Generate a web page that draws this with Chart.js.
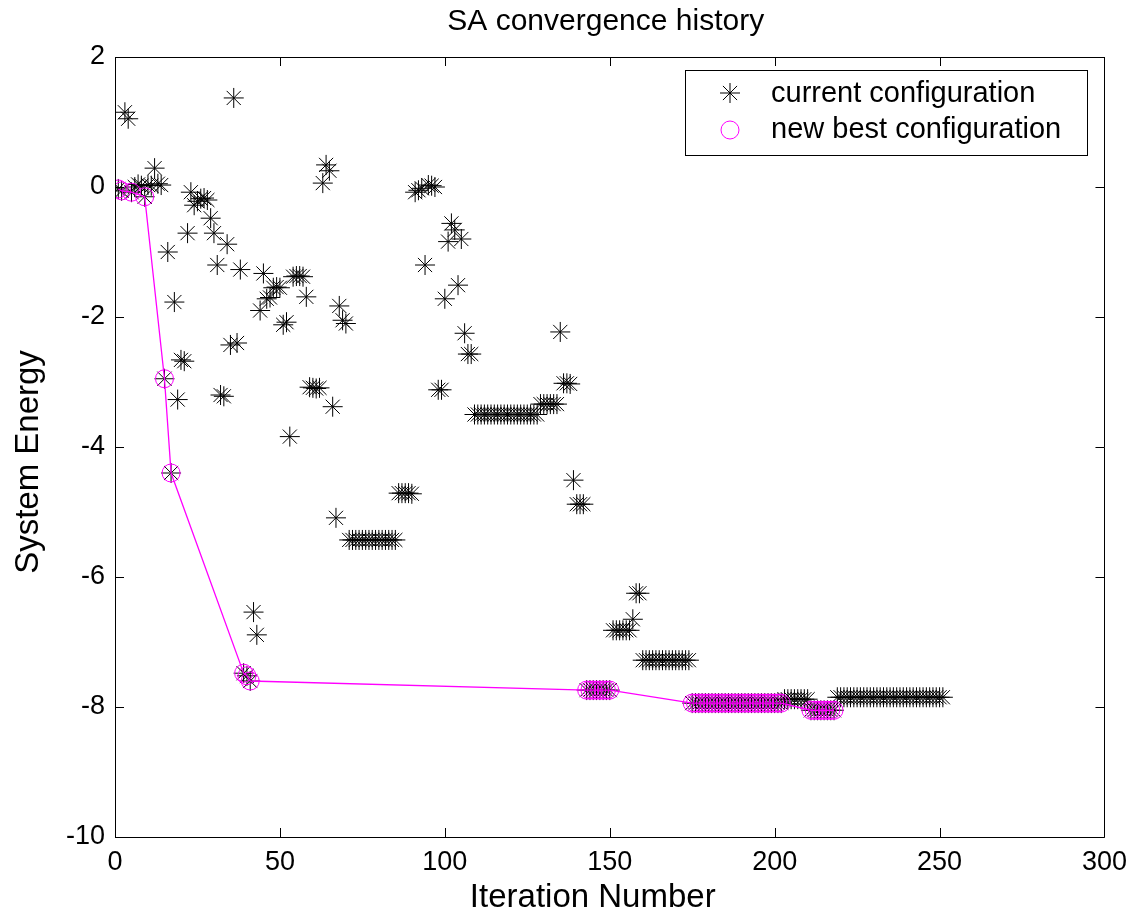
<!DOCTYPE html>
<html><head><meta charset="utf-8">
<script src="https://cdn.jsdelivr.net/npm/chart.js@4.4.1/dist/chart.umd.min.js"></script>
<style>html,body{margin:0;padding:0;background:#fff}canvas{display:block}</style>
</head><body>
<canvas id="c" width="1136" height="916"></canvas>
<script>
// System energy of the current configuration, iterations 1..251
const currentEnergy = [
  -0.03, -0.06, 1.15, 1.05, -0.08, 0.00, 0.04, 0.02, -0.15, 0.03,
  0.02, 0.29, 0.05, 0.03, -2.95, -1.00, -4.40, -1.77, -3.27, -2.66,
  -2.68, -0.71, -0.08, -0.28, -0.22, -0.18, -0.17, -0.20, -0.48, -0.71,
  -1.20, -3.20, -3.22, -0.88, -2.43, 1.37, -2.40, -1.27, -7.48, -7.52,
  -7.60, -6.54, -6.89, -1.90, -1.33, -1.72, -1.70, -1.55, -1.54, -1.55,
  -2.12, -2.08, -3.84, -1.38, -1.37, -1.37, -1.38, -1.69, -3.08, -3.09,
  -3.10, -3.09, 0.06, 0.34, 0.25, -3.38, -5.09, -1.83, -2.05, -2.10,
  -5.43, -5.43, -5.43, -5.43, -5.43, -5.43, -5.43, -5.43, -5.43, -5.43,
  -5.43, -5.43, -5.43, -5.43, -5.43, -4.71, -4.71, -4.71, -4.71, -4.72,
  -0.08, -0.05, -0.02, -1.20, 0.03, 0.02, 0.00, -3.12, -3.12, -1.72,
  -0.84, -0.56, -0.66, -1.51, -0.80, -2.25, -2.57, -2.57, -3.50, -3.50,
  -3.50, -3.50, -3.50, -3.50, -3.50, -3.50, -3.50, -3.50, -3.50, -3.50,
  -3.50, -3.50, -3.50, -3.50, -3.50, -3.50, -3.50, -3.50, -3.34, -3.34,
  -3.34, -3.34, -3.34, -3.34, -2.23, -3.02, -3.02, -3.03, -4.51, -4.88,
  -4.88, -4.88, -7.74, -7.74, -7.74, -7.74, -7.74, -7.74, -7.74, -7.74,
  -6.82, -6.82, -6.82, -6.82, -6.82, -6.82, -6.65, -6.25, -6.25, -7.28,
  -7.28, -7.28, -7.28, -7.28, -7.28, -7.28, -7.28, -7.28, -7.28, -7.28,
  -7.28, -7.28, -7.28, -7.28, -7.94, -7.94, -7.94, -7.94, -7.94, -7.94,
  -7.94, -7.94, -7.94, -7.94, -7.94, -7.94, -7.94, -7.94, -7.94, -7.94,
  -7.94, -7.94, -7.94, -7.94, -7.94, -7.94, -7.94, -7.94, -7.94, -7.94,
  -7.94, -7.94, -7.88, -7.88, -7.88, -7.88, -7.88, -7.88, -7.88, -7.88,
  -8.05, -8.05, -8.05, -8.05, -8.05, -8.05, -8.05, -8.05, -7.85, -7.85,
  -7.85, -7.85, -7.85, -7.85, -7.85, -7.85, -7.85, -7.85, -7.85, -7.85,
  -7.85, -7.85, -7.85, -7.85, -7.85, -7.85, -7.85, -7.85, -7.85, -7.85,
  -7.85, -7.85, -7.85, -7.85, -7.85, -7.85, -7.85, -7.85, -7.85, -7.85,
  -7.85
];

// New best configurations (iteration, energy)
const bestIter = [1, 2, 5, 9, 15, 17, 39, 40, 41,
  143, 144, 145, 146, 147, 148, 149, 150,
  175, 176, 177, 178, 179, 180, 181, 182, 183, 184, 185, 186, 187, 188,
  189, 190, 191, 192, 193, 194, 195, 196, 197, 198, 199, 200, 201, 202,
  211, 212, 213, 214, 215, 216, 217, 218];
const bestEnergy = [-0.03, -0.06, -0.08, -0.15, -2.95, -4.40, -7.48, -7.52, -7.60,
  -7.74, -7.74, -7.74, -7.74, -7.74, -7.74, -7.74, -7.74,
  -7.94, -7.94, -7.94, -7.94, -7.94, -7.94, -7.94, -7.94, -7.94, -7.94, -7.94, -7.94, -7.94, -7.94,
  -7.94, -7.94, -7.94, -7.94, -7.94, -7.94, -7.94, -7.94, -7.94, -7.94, -7.94, -7.94, -7.94, -7.94,
  -8.05, -8.05, -8.05, -8.05, -8.05, -8.05, -8.05, -8.05];

const xTicks = [0, 50, 100, 150, 200, 250, 300];
const yTicks = [-10, -8, -6, -4, -2, 0, 2];
const legendLabels = ['current configuration', 'new best configuration'];
const chartTitle = 'SA convergence history';
const xTitle = 'Iteration Number';
const yTitle = 'System Energy';

const FONT = "'Liberation Sans', Arial, Helvetica, sans-serif";
const MAGENTA = '#ff00ff';

const currentPts = currentEnergy.map((y, i) => ({x: i + 1, y}));
const bestPts = bestIter.map((x, i) => ({x, y: bestEnergy[i]}));

const boxPlugin = {
  id: 'matlabBox',
  afterDatasetsDraw(chart) {
    const {ctx, chartArea: a, scales: {x, y}} = chart;
    ctx.save();
    // title and axis labels
    ctx.fillStyle = '#000';
    ctx.font = '30px ' + FONT;
    ctx.textAlign = 'center';
    ctx.textBaseline = 'middle';
    ctx.fillText(chartTitle, (a.left + a.right) / 2 - 4, 22);
    ctx.font = '33px ' + FONT;
    ctx.fillText(xTitle, (a.left + a.right) / 2 - 17, 898);
    ctx.save();
    ctx.translate(29, (a.top + a.bottom) / 2 + 15);
    ctx.rotate(-Math.PI / 2);
    ctx.fillText(yTitle, 0, 0);
    ctx.restore();

    ctx.strokeStyle = '#000';
    ctx.lineWidth = 1;
    ctx.beginPath();
    ctx.rect(Math.round(a.left) + 0.5, Math.round(a.top) + 0.5,
             Math.round(a.right - a.left), Math.round(a.bottom - a.top));
    ctx.stroke();
    const tl = 9;
    ctx.beginPath();
    xTicks.forEach(v => {
      const px = Math.round(x.getPixelForValue(v)) + 0.5;
      ctx.moveTo(px, a.bottom); ctx.lineTo(px, a.bottom - tl);
      ctx.moveTo(px, a.top); ctx.lineTo(px, a.top + tl);
    });
    yTicks.forEach(v => {
      const py = Math.round(y.getPixelForValue(v)) + 0.5;
      ctx.moveTo(a.left, py); ctx.lineTo(a.left + tl, py);
      ctx.moveTo(a.right, py); ctx.lineTo(a.right - tl, py);
    });
    ctx.stroke();

    // legend
    const lx = 685.5, ly = 70.5, lw = 402, lh = 85;
    ctx.fillStyle = '#fff';
    ctx.fillRect(lx, ly, lw, lh);
    ctx.strokeStyle = '#000';
    ctx.strokeRect(lx, ly, lw, lh);
    const mx = 730, r1y = 93, r2y = 130;
    ctx.beginPath();
    const r = 10, d = r * Math.SQRT1_2;
    ctx.moveTo(mx - r, r1y); ctx.lineTo(mx + r, r1y);
    ctx.moveTo(mx, r1y - r); ctx.lineTo(mx, r1y + r);
    ctx.moveTo(mx - d, r1y - d); ctx.lineTo(mx + d, r1y + d);
    ctx.moveTo(mx - d, r1y + d); ctx.lineTo(mx + d, r1y - d);
    ctx.strokeStyle = '#000';
    ctx.stroke();
    ctx.beginPath();
    ctx.arc(mx, r2y, 9, 0, Math.PI * 2);
    ctx.strokeStyle = MAGENTA;
    ctx.stroke();
    ctx.fillStyle = '#000';
    ctx.font = '29px ' + FONT;
    ctx.textBaseline = 'middle';
    ctx.textAlign = 'left';
    ctx.fillText(legendLabels[0], 771, r1y + 1);
    ctx.fillText(legendLabels[1], 771, r2y);
    ctx.restore();
  }
};

new Chart(document.getElementById('c'), {
  type: 'scatter',
  data: {
    datasets: [
      {
        label: legendLabels[0],
        data: currentPts,
        showLine: false,
        pointStyle: 'star',
        pointRadius: 10,
        borderColor: '#000',
        backgroundColor: '#000',
        borderWidth: 1,
        order: 2
      },
      {
        label: legendLabels[1],
        data: bestPts,
        showLine: true,
        borderColor: MAGENTA,
        borderWidth: 1.3,
        pointStyle: 'circle',
        pointRadius: 9,
        pointBorderColor: MAGENTA,
        pointBackgroundColor: 'rgba(0,0,0,0)',
        pointBorderWidth: 1,
        tension: 0,
        order: 1
      }
    ]
  },
  options: {
    responsive: false,
    animation: false,
    events: [],
    layout: {padding: {left: 0, right: 31, top: 57, bottom: 0}},
    plugins: {
      legend: {display: false},
      tooltip: {enabled: false},
      title: {display: false}
    },
    scales: {
      x: {
        type: 'linear', min: 0, max: 300,
        afterBuildTicks(s) { s.ticks = xTicks.map(v => ({value: v})); },
        ticks: {color: '#000', font: {family: FONT, size: 27}, padding: 9, maxRotation: 0},
        grid: {display: false, drawTicks: false},
        border: {display: false},
        title: {display: false},
        afterFit(s) { s.height = 79; }
      },
      y: {
        type: 'linear', min: -10, max: 2,
        afterBuildTicks(s) { s.ticks = yTicks.map(v => ({value: v})); },
        ticks: {color: '#000', font: {family: FONT, size: 27}, padding: 10},
        grid: {display: false, drawTicks: false},
        border: {display: false},
        title: {display: false},
        afterFit(s) { s.width = 115; }
      }
    }
  },
  plugins: [boxPlugin]
});
</script>
</body></html>
